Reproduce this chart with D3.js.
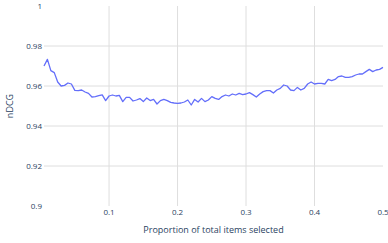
<!DOCTYPE html>
<html>
<head>
<meta charset="utf-8">
<script src="https://cdn.jsdelivr.net/npm/d3@7"></script>
<style>
  body { margin: 0; background: #fff; }
  text { font-family: "Open Sans", sans-serif; fill: #2a3f5f; }
</style>
</head>
<body>
<script>
const width = 388;
const height = 243;

// proportion of total items selected: 0.005 .. 0.5
const xValues = d3.range(1, 101).map(i => +(i * 0.005).toFixed(3));
const ndcg = [
  0.9700, 0.9733, 0.9677, 0.9667, 0.9620, 0.9600, 0.9603, 0.9615, 0.9610, 0.9578,
  0.9577, 0.9580, 0.9570, 0.9563, 0.9545, 0.9547, 0.9552, 0.9556, 0.9527, 0.9550,
  0.9555, 0.9550, 0.9553, 0.9522, 0.9543, 0.9543, 0.9525, 0.9530, 0.9537, 0.9522,
  0.9540, 0.9527, 0.9533, 0.9510, 0.9527, 0.9533, 0.9527, 0.9518, 0.9515, 0.9513,
  0.9515, 0.9520, 0.9530, 0.9505, 0.9533, 0.9520, 0.9538, 0.9522, 0.9530, 0.9547,
  0.9538, 0.9533, 0.9547, 0.9555, 0.9550, 0.9560, 0.9555, 0.9563, 0.9557, 0.9560,
  0.9567, 0.9557, 0.9545, 0.9560, 0.9572, 0.9577, 0.9577, 0.9565, 0.9580, 0.9588,
  0.9605, 0.9600, 0.9580, 0.9577, 0.9593, 0.9580, 0.9588, 0.9610, 0.9620, 0.9610,
  0.9613, 0.9613, 0.9610, 0.9633, 0.9627, 0.9633, 0.9647, 0.9650, 0.9643, 0.9643,
  0.9647, 0.9655, 0.9660, 0.9660, 0.9672, 0.9683, 0.9672, 0.9680, 0.9683, 0.9693
];
const xTicks = [0.1, 0.2, 0.3, 0.4, 0.5];
const yTicks = [0.9, 0.92, 0.94, 0.96, 0.98, 1];

const margin = {left: 44, right: 5, top: 6, bottom: 37};

const svg = d3.select('body').append('svg').attr('width', width).attr('height', height);

const x = d3.scaleLinear().domain([0.005, 0.5]).range([margin.left, width - margin.right]);
const y = d3.scaleLinear().domain([0.9, 1]).range([height - margin.bottom, margin.top]);

// grid
svg.append('g').selectAll('line.xg')
  .data(xTicks.filter(t => t < 0.5))
  .enter().append('line')
  .attr('x1', d => x(d)).attr('x2', d => x(d))
  .attr('y1', y(1)).attr('y2', y(0.9))
  .attr('stroke', '#dedede').attr('stroke-width', 1);

svg.append('g').selectAll('line.yg')
  .data(yTicks.filter(t => t > 0.9 && t < 1))
  .enter().append('line')
  .attr('x1', x(0.005)).attr('x2', x(0.5))
  .attr('y1', d => y(d)).attr('y2', d => y(d))
  .attr('stroke', '#dedede').attr('stroke-width', 1);

// tick labels
const fmt = d => d3.format('')(+d.toFixed(2));
svg.append('g').selectAll('text')
  .data(xTicks)
  .enter().append('text')
  .attr('x', d => x(d)).attr('y', y(0.9) + 9)
  .attr('text-anchor', 'middle')
  .attr('font-size', 8)
  .text(fmt);

svg.append('g').selectAll('text')
  .data(yTicks)
  .enter().append('text')
  .attr('x', margin.left - 2).attr('y', d => y(d) + 3)
  .attr('text-anchor', 'end')
  .attr('font-size', 8)
  .text(fmt);

// line
const line = d3.line().x((d, i) => x(xValues[i])).y(d => y(d));
svg.append('path')
  .datum(ndcg)
  .attr('fill', 'none')
  .attr('stroke', '#636efa')
  .attr('stroke-width', 1.3)
  .attr('stroke-linejoin', 'round')
  .attr('d', line);

// axis titles
svg.append('text')
  .attr('x', (x(0.005) + x(0.5)) / 2).attr('y', 233)
  .attr('text-anchor', 'middle')
  .attr('font-size', 9)
  .text('Proportion of total items selected');

svg.append('text')
  .attr('transform', `translate(13,${(y(0.9) + y(1)) / 2}) rotate(-90)`)
  .attr('text-anchor', 'middle')
  .attr('font-size', 9)
  .text('nDCG');
</script>
</body>
</html>
